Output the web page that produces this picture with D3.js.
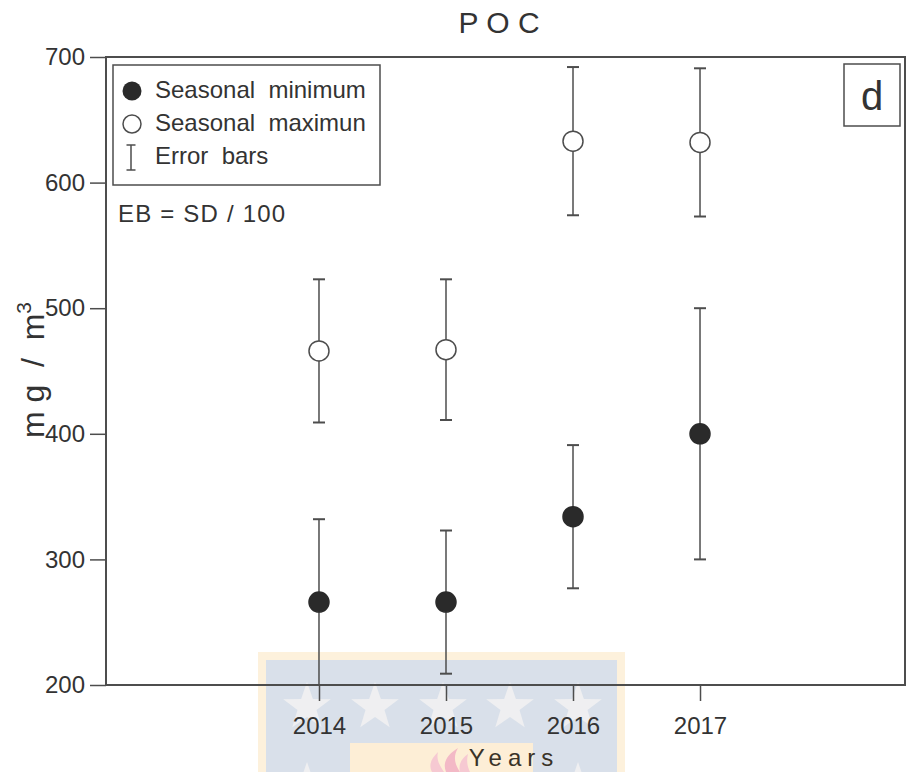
<!DOCTYPE html>
<html>
<head>
<meta charset="utf-8">
<script src="https://cdn.jsdelivr.net/npm/d3@7/dist/d3.min.js"></script>
<style>
  html, body { margin: 0; padding: 0; background: #fff; }
  svg { display: block; font-family: "Liberation Sans", Arial, Helvetica, sans-serif; }
</style>
</head>
<body>
<svg id="chart" width="907" height="772"></svg>
<script>
// POC concentration per year: seasonal minimum / maximum with error bars
const years = [2014, 2015, 2016, 2017];
const seasonalMin = [266, 266, 334, 400];
const seasonalMinErr = [66, 57, 57, 100];
const seasonalMax = [466, 467, 633, 632];
const seasonalMaxErr = [57, 56, 59, 59];
const yTicks = [200, 300, 400, 500, 600, 700];

const svg = d3.select("#chart");
const ink = "#333";
const frameCol = "#4d4d4d";

const plot = { left: 106, right: 905, top: 57, bottom: 685 };

const x = d3.scaleLinear().domain([2012.323, 2018.614]).range([plot.left, plot.right]);
const y = d3.scaleLinear().domain([200, 700]).range([plot.bottom, plot.top]);

// faint institutional emblem behind the x axis
const emb = svg.append("g").attr("class", "emblem");
emb.append("rect").attr("x", 258).attr("y", 652).attr("width", 367).attr("height", 130).attr("fill", "#fdf1dc");
emb.append("rect").attr("x", 266).attr("y", 660).attr("width", 351).attr("height", 122).attr("fill", "#d9e0ea");
function starPath(cx, cy, R, r) {
  const pts = [];
  for (let i = 0; i < 10; i++) {
    const a = -Math.PI / 2 + i * Math.PI / 5;
    const rad = i % 2 === 0 ? R : r;
    pts.push([cx + rad * Math.cos(a), cy + rad * Math.sin(a)]);
  }
  return "M" + pts.map(p => p.join(",")).join("L") + "Z";
}
[307, 375, 443, 510, 578].forEach(cx => {
  emb.append("path").attr("d", starPath(cx, 707, 25, 10)).attr("fill", "#efeff1");
});
[307, 578].forEach(cx => {
  emb.append("path").attr("d", starPath(cx, 787, 25, 10)).attr("fill", "#efeff1");
});
emb.append("rect").attr("x", 350).attr("y", 743).attr("width", 183).attr("height", 40).attr("fill", "#fdeed6");
emb.append("path").attr("d", "M432,772 C428,764 432,758 438,752 C436,760 440,766 444,772 Z").attr("fill", "#f6c9d2");
emb.append("path").attr("d", "M446,772 C442,762 448,754 458,748 C452,758 456,766 460,772 Z").attr("fill", "#f3b9c6");
emb.append("path").attr("d", "M460,772 C458,764 462,758 468,754 C466,762 468,768 470,772 Z").attr("fill", "#f6c9d2");

// axes
const yAxis = d3.axisLeft(y).tickValues(yTicks).tickSize(16).tickPadding(5);
const gy = svg.append("g").attr("transform", `translate(${plot.left},0)`).call(yAxis);
gy.select(".domain").remove();
gy.selectAll(".tick line").attr("stroke", frameCol).attr("stroke-width", 1.5);
gy.selectAll(".tick text").attr("fill", ink).attr("font-size", 24).attr("font-family", null);

const xAxis = d3.axisBottom(x).tickValues(years).tickFormat(d3.format("d")).tickSize(16).tickPadding(16);
const gx = svg.append("g").attr("transform", `translate(0,${plot.bottom})`).call(xAxis);
gx.select(".domain").remove();
gx.selectAll(".tick line").attr("stroke", frameCol).attr("stroke-width", 1.5);
gx.selectAll(".tick text").attr("fill", ink).attr("font-size", 24).attr("font-family", null);

// plot frame
svg.append("rect")
  .attr("x", plot.left).attr("y", plot.top)
  .attr("width", plot.right - plot.left).attr("height", plot.bottom - plot.top)
  .attr("fill", "none").attr("stroke", frameCol).attr("stroke-width", 2);

// title and axis titles
svg.append("text").attr("x", 499).attr("y", 33).attr("text-anchor", "middle")
  .attr("font-size", 30).attr("fill", ink).style("white-space", "pre").text("P O C");

svg.append("text").attr("x", 514).attr("y", 766).attr("text-anchor", "middle")
  .attr("font-size", 24).attr("letter-spacing", 6).attr("fill", "#3a3328").text("Years");

const yl = svg.append("text")
  .attr("transform", "translate(44,370) rotate(-90)")
  .attr("text-anchor", "middle").attr("font-size", 32).attr("fill", ink)
  .style("white-space", "pre");
yl.append("tspan").text("m g  /  m");
yl.append("tspan").attr("font-size", 21).attr("dy", -13).text("3");

// error bars and points
const cap = 6;
function drawSeries(vals, errs, filled) {
  const g = svg.append("g");
  years.forEach((yr, i) => {
    const cx = x(yr);
    const lo = y(vals[i] - errs[i]);
    const hi = y(vals[i] + errs[i]);
    g.append("line").attr("x1", cx).attr("x2", cx).attr("y1", hi).attr("y2", lo)
      .attr("stroke", frameCol).attr("stroke-width", 1.5);
    [hi, lo].forEach(v => g.append("line").attr("x1", cx - cap).attr("x2", cx + cap)
      .attr("y1", v).attr("y2", v).attr("stroke", frameCol).attr("stroke-width", 2));
  });
  g.selectAll("circle").data(vals).join("circle")
    .attr("cx", (d, i) => x(years[i])).attr("cy", d => y(d)).attr("r", 10)
    .attr("fill", filled ? "#2a2a2a" : "#fff")
    .attr("stroke", filled ? "#2a2a2a" : frameCol).attr("stroke-width", 1.5);
}
drawSeries(seasonalMax, seasonalMaxErr, false);
drawSeries(seasonalMin, seasonalMinErr, true);

// legend
const lg = svg.append("g");
lg.append("rect").attr("x", 113).attr("y", 65).attr("width", 267).attr("height", 120)
  .attr("fill", "#fff").attr("stroke", frameCol).attr("stroke-width", 1.5);
lg.append("circle").attr("cx", 132).attr("cy", 91).attr("r", 9.5).attr("fill", "#2a2a2a");
lg.append("circle").attr("cx", 132).attr("cy", 124).attr("r", 9).attr("fill", "#fff")
  .attr("stroke", frameCol).attr("stroke-width", 1.5);
lg.append("line").attr("x1", 131).attr("x2", 131).attr("y1", 145).attr("y2", 170)
  .attr("stroke", frameCol).attr("stroke-width", 1.5);
[145, 170].forEach(v => lg.append("line").attr("x1", 126.5).attr("x2", 135.5)
  .attr("y1", v).attr("y2", v).attr("stroke", frameCol).attr("stroke-width", 1.5));
const legendLabels = ["Seasonal  minimum", "Seasonal  maximun", "Error  bars"];
legendLabels.forEach((t, i) => {
  lg.append("text").attr("x", 155).attr("y", 98 + i * 33).attr("font-size", 24)
    .attr("fill", ink).style("white-space", "pre").text(t);
});

svg.append("text").attr("x", 118).attr("y", 222).attr("font-size", 24).attr("letter-spacing", 1.2)
  .attr("fill", ink).style("white-space", "pre").text("EB = SD / 100");

// panel letter
svg.append("rect").attr("x", 844).attr("y", 64).attr("width", 56).attr("height", 62)
  .attr("fill", "#fff").attr("stroke", frameCol).attr("stroke-width", 1.5);
svg.append("text").attr("x", 872).attr("y", 110).attr("text-anchor", "middle")
  .attr("font-size", 40).attr("fill", ink).text("d");
</script>
</body>
</html>
